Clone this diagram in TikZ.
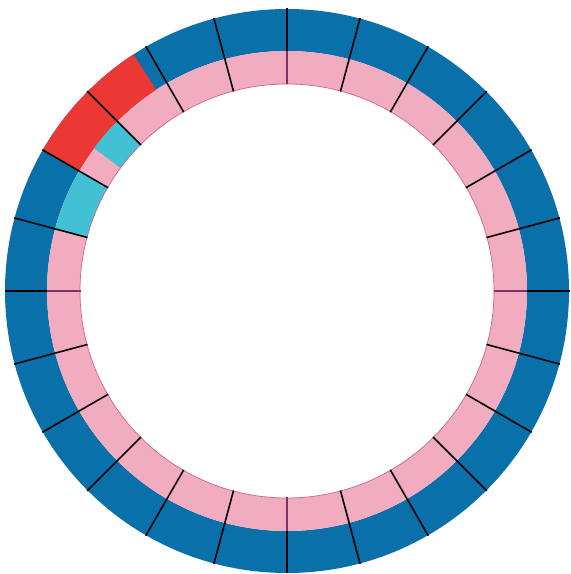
\documentclass[tikz,border=0pt]{standalone}
\definecolor{ringblue}{RGB}{10,112,170}
\definecolor{ringpink}{RGB}{242,172,192}
\definecolor{ringred}{RGB}{236,56,52}
\definecolor{ringcyan}{RGB}{66,192,212}
\definecolor{ringedge}{RGB}{205,100,140}
\definecolor{cardline}{RGB}{130,50,100}
\tikzset{
  spoke/.style={line width=1.6pt, black},
  cardspoke/.style={line width=1.3pt, cardline},
}
\begin{document}
\begin{tikzpicture}[x=1pt,y=1pt]
\useasboundingbox (0,0) rectangle (571,574);
\begin{scope}[shift={(287,283)}]
  % outer blue band
  \fill[ringblue, even odd rule] (0,0) circle[radius=282] (0,0) circle[radius=240];
  % inner pink band
  \fill[ringpink, even odd rule] (0,0) circle[radius=240] (0,0) circle[radius=207];
  % red block in outer band
  \fill[ringred] (123:282) arc[start angle=123,end angle=150,radius=282]
     -- (150:240) arc[start angle=150,end angle=123,radius=240] -- cycle;
  % cyan blocks in inner band
  \fill[ringcyan] (135:240) arc[start angle=135,end angle=143.5,radius=240]
     -- (143.5:207) arc[start angle=143.5,end angle=135,radius=207] -- cycle;
  \fill[ringcyan] (150:240) arc[start angle=150,end angle=165,radius=240]
     -- (165:207) arc[start angle=165,end angle=150,radius=207] -- cycle;
  % thin edges of pink band
  \draw[ringedge, line width=0.7pt] (0,0) circle[radius=207];
  % spokes
  \foreach \a in {0,15,...,345} {
    \draw[spoke] (\a:240) -- (\a:282.5);
  }
  \foreach \a in {15,30,45,60,75,105,120,135,150,165,195,210,225,240,255,285,300,315,330,345} {
    \draw[spoke] (\a:206.5) -- (\a:240);
  }
  \foreach \a in {0,90,180,270} {
    \draw[cardspoke] (\a:206.5) -- (\a:240);
  }
\end{scope}
\end{tikzpicture}
\end{document}
